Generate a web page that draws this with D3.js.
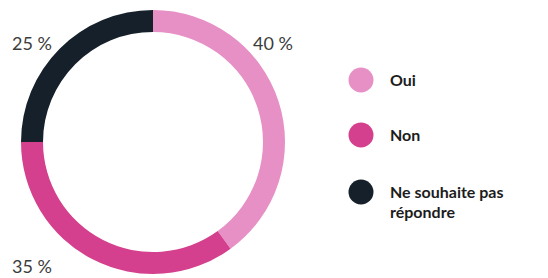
<!DOCTYPE html>
<html><head><meta charset="utf-8">
<script src="https://cdn.jsdelivr.net/npm/d3@7"></script>
<style>html,body{margin:0;padding:0;background:#fff;overflow:hidden}</style>
</head><body><svg id="c" width="548" height="278"></svg>
<script>
const categories = ["Oui", "Non", "Ne souhaite pas répondre"];
const legendLines = [["Oui"], ["Non"], ["Ne souhaite pas", "répondre"]];
const values = [40, 35, 25];
const valueLabels = ["40 %", "35 %", "25 %"];
const colors = ["#e690c6", "#d4408d", "#15202a"];

const svg = d3.select("#c");
const cx = 153, cy = 142, rOuter = 132, rInner = 110;
const g = svg.append("g").attr("transform", `translate(${cx},${cy})`);
const pie = d3.pie().sort(null).value(d => d)(values);
const arc = d3.arc().innerRadius(rInner).outerRadius(rOuter);
g.selectAll("path").data(pie).join("path")
  .attr("d", arc).attr("fill", (d, i) => colors[i]);

// value labels
const labelPos = [
  {x: 253, y: 50, anchor: "start"},
  {x: 12, y: 273, anchor: "start"},
  {x: 12, y: 50, anchor: "start"}
];
svg.selectAll("text.val").data(valueLabels).join("text")
  .attr("class", "val")
  .attr("x", (d, i) => labelPos[i].x).attr("y", (d, i) => labelPos[i].y)
  .attr("text-anchor", (d, i) => labelPos[i].anchor)
  .attr("font-family", "Lato, sans-serif").attr("font-size", 18)
  .attr("fill", "#3c3c3c").text(d => d);

// legend
const ly = [80, 135, 192];
const leg = svg.selectAll("g.leg").data(categories).join("g").attr("class", "leg")
  .attr("transform", (d, i) => `translate(361,${ly[i]})`);
leg.append("circle").attr("r", 12.5).attr("fill", (d, i) => colors[i]);
leg.append("text").attr("x", 29).attr("y", 5.5)
  .attr("font-family", "Lato, sans-serif").attr("font-size", 16).attr("font-weight", 700)
  .attr("fill", "#1c1c1c")
  .each(function(d, i) {
    d3.select(this).selectAll("tspan").data(legendLines[i]).join("tspan")
      .attr("x", 29).attr("dy", (t, j) => j === 0 ? 0 : 20).text(t => t);
  });
</script></body></html>
